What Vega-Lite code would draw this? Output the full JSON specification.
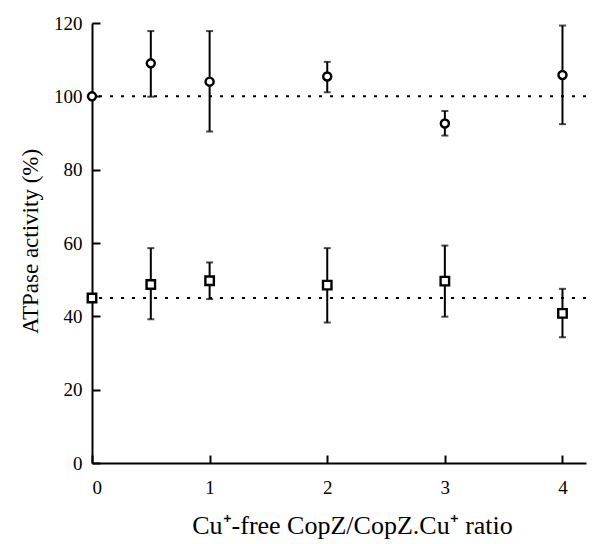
{
  "$schema": "https://vega.github.io/schema/vega-lite/v6.json",
  "width": 494,
  "height": 440,
  "autosize": "none",
  "padding": {"left": 92, "top": 23, "right": 8, "bottom": 81},
  "background": "white",
  "config": {
    "view": {"stroke": null},
    "font": "Liberation Serif",
    "axis": {
      "grid": false,
      "domainColor": "black",
      "domainWidth": 2,
      "tickColor": "black",
      "tickWidth": 2,
      "tickSize": -8,
      "labelFont": "Liberation Serif",
      "labelFontSize": 19,
      "labelColor": "black",
      "titleFont": "Liberation Serif",
      "titleFontWeight": "normal",
      "titleColor": "black"
    }
  },
  "datasets": {
    "pts": [
      {"series": "A", "x": 0, "y": 100, "lo": null, "hi": null},
      {"series": "A", "x": 0.5, "y": 109.0, "lo": 99.9, "hi": 117.8},
      {"series": "A", "x": 1, "y": 104.0, "lo": 90.4, "hi": 117.8},
      {"series": "A", "x": 2, "y": 105.4, "lo": 101.1, "hi": 109.4},
      {"series": "A", "x": 3, "y": 92.6, "lo": 89.3, "hi": 96.0},
      {"series": "A", "x": 4, "y": 105.8, "lo": 92.4, "hi": 119.3},
      {"series": "B", "x": 0, "y": 45, "lo": null, "hi": null},
      {"series": "B", "x": 0.5, "y": 48.7, "lo": 39.2, "hi": 58.6},
      {"series": "B", "x": 1, "y": 49.7, "lo": 44.7, "hi": 54.7},
      {"series": "B", "x": 2, "y": 48.5, "lo": 38.3, "hi": 58.6},
      {"series": "B", "x": 3, "y": 49.6, "lo": 39.9, "hi": 59.3},
      {"series": "B", "x": 4, "y": 40.8, "lo": 34.3, "hi": 47.5}
    ],
    "refs": [{"ref": 100}, {"ref": 45}]
  },
  "layer": [
    {
      "data": {"name": "refs"},
      "mark": {"type": "rule", "color": "black", "strokeWidth": 2, "strokeDash": [3, 8]},
      "encoding": {
        "y": {"field": "ref", "type": "quantitative", "scale": {"domain": [0, 120]}}
      }
    },
    {
      "data": {"name": "pts"},
      "transform": [{"filter": "datum.lo != null"}],
      "layer": [
        {
          "mark": {"type": "rule", "color": "black", "strokeWidth": 2},
          "encoding": {
            "x": {"field": "x", "type": "quantitative"},
            "y": {"field": "lo", "type": "quantitative"},
            "y2": {"field": "hi"}
          }
        },
        {
          "mark": {"type": "tick", "orient": "horizontal", "color": "black", "thickness": 2, "size": 7},
          "encoding": {
            "x": {"field": "x", "type": "quantitative"},
            "y": {"field": "lo", "type": "quantitative"}
          }
        },
        {
          "mark": {"type": "tick", "orient": "horizontal", "color": "black", "thickness": 2, "size": 7},
          "encoding": {
            "x": {"field": "x", "type": "quantitative"},
            "y": {"field": "hi", "type": "quantitative"}
          }
        }
      ]
    },
    {
      "data": {"name": "pts"},
      "mark": {"type": "point", "filled": false, "fill": "white", "fillOpacity": 1, "stroke": "black", "strokeWidth": 2.4, "opacity": 1},
      "encoding": {
        "x": {
          "field": "x", "type": "quantitative",
          "scale": {"domain": [0, 4.2], "nice": false},
          "axis": {
            "values": [0, 1, 2, 3, 4], "format": "d",
            "labelBaseline": "alphabetic", "labelPadding": 38,
            "title": "Cu⁺-free CopZ/CopZ.Cu⁺ ratio",
            "titleFontSize": 26,
            "titleX": 260, "titleY": 70, "titleAlign": "center", "titleBaseline": "alphabetic", "titleAnchor": null
          }
        },
        "y": {
          "field": "y", "type": "quantitative",
          "scale": {"domain": [0, 120], "nice": false},
          "axis": {
            "values": [0, 20, 40, 60, 80, 100, 120], "labelPadding": 18,
            "title": "ATPase activity (%)",
            "titleFontSize": 23,
            "titleAngle": -90, "titleX": -55, "titleY": 218, "titleAlign": "center", "titleBaseline": "alphabetic", "titleAnchor": null
          }
        },
        "shape": {
          "field": "series", "type": "nominal",
          "scale": {"domain": ["A", "B"], "range": ["circle", "square"]},
          "legend": null
        },
        "size": {
          "field": "series", "type": "nominal",
          "scale": {"domain": ["A", "B"], "range": [65, 72]},
          "legend": null
        }
      }
    }
  ]
}
